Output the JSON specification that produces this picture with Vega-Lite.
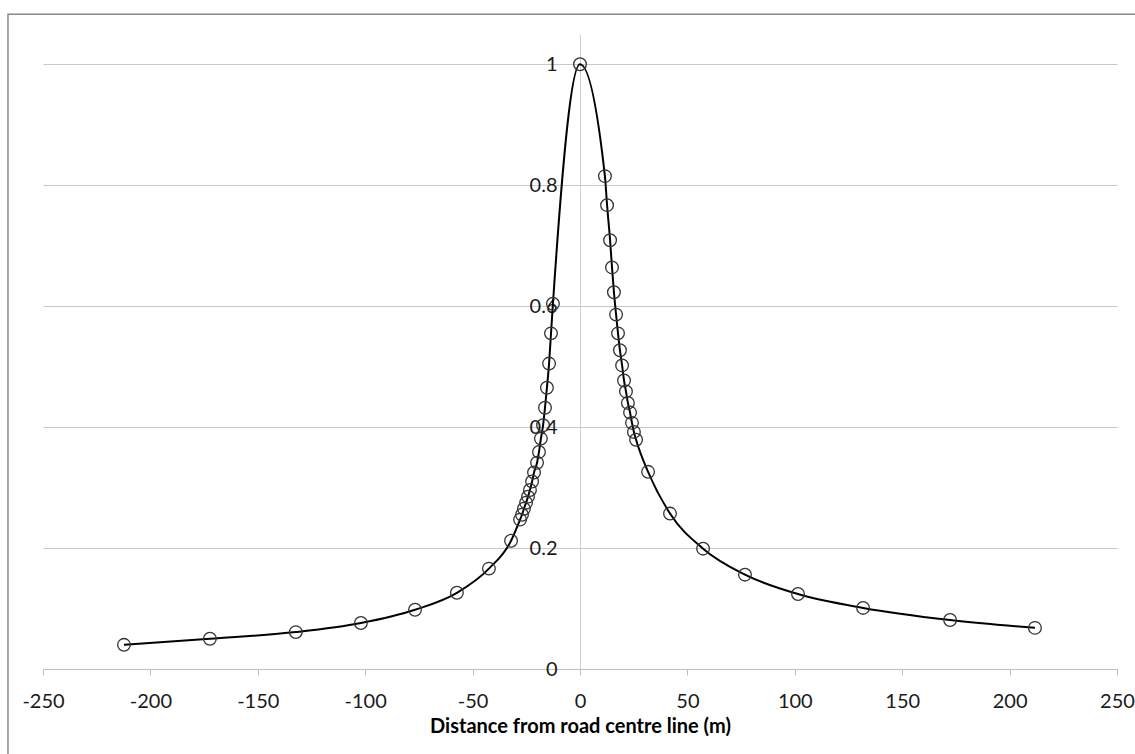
{
  "$schema": "https://vega.github.io/schema/vega-lite/v6.json",
  "width": 1074,
  "height": 635,
  "autosize": {"type": "none"},
  "padding": {"left": 43, "top": 34, "right": 18, "bottom": 85},
  "background": "white",
  "config": {"view": {"stroke": null}, "font": "Lato"},
  "data": {"values": [
    {"d": -212.3, "v": 0.040}, {"d": -172.3, "v": 0.050}, {"d": -132.3, "v": 0.061},
    {"d": -102.0, "v": 0.076}, {"d": -76.8, "v": 0.098}, {"d": -57.3, "v": 0.126},
    {"d": -42.4, "v": 0.166}, {"d": -32.1, "v": 0.212}, {"d": -27.9, "v": 0.247},
    {"d": -27.0, "v": 0.255}, {"d": -26.1, "v": 0.265}, {"d": -25.1, "v": 0.275},
    {"d": -24.2, "v": 0.285}, {"d": -23.3, "v": 0.296}, {"d": -22.3, "v": 0.310},
    {"d": -21.4, "v": 0.325}, {"d": -20.0, "v": 0.341}, {"d": -19.1, "v": 0.359},
    {"d": -18.2, "v": 0.381}, {"d": -17.2, "v": 0.403}, {"d": -16.3, "v": 0.432},
    {"d": -15.4, "v": 0.465}, {"d": -14.4, "v": 0.505}, {"d": -13.5, "v": 0.555},
    {"d": -12.6, "v": 0.604}, {"d": 0, "v": 1.0},
    {"d": 11.6, "v": 0.815}, {"d": 12.6, "v": 0.767}, {"d": 14.0, "v": 0.709},
    {"d": 14.9, "v": 0.664}, {"d": 15.8, "v": 0.623}, {"d": 16.8, "v": 0.586},
    {"d": 17.7, "v": 0.555}, {"d": 18.6, "v": 0.527}, {"d": 19.6, "v": 0.502},
    {"d": 20.5, "v": 0.477}, {"d": 21.4, "v": 0.459}, {"d": 22.3, "v": 0.440},
    {"d": 23.3, "v": 0.424}, {"d": 24.2, "v": 0.407}, {"d": 25.1, "v": 0.392},
    {"d": 26.1, "v": 0.379}, {"d": 31.7, "v": 0.326}, {"d": 41.9, "v": 0.257},
    {"d": 57.3, "v": 0.199}, {"d": 76.8, "v": 0.156}, {"d": 101.5, "v": 0.124},
    {"d": 131.8, "v": 0.101}, {"d": 172.3, "v": 0.081}, {"d": 211.8, "v": 0.068}
  ]},
  "layer": [
    {
      "mark": {"type": "line", "interpolate": "monotone", "color": "#000000", "strokeWidth": 2},
      "encoding": {
        "x": {
          "field": "d", "type": "quantitative",
          "scale": {"domain": [-250, 250], "nice": false, "zero": false},
          "axis": {
            "orient": "bottom",
            "values": [-250, -200, -150, -100, -50, 0, 50, 100, 150, 200, 250],
            "labelExpr": "'' + datum.value",
            "grid": false,
            "domainColor": "#bfbfbf", "domainWidth": 1,
            "tickColor": "#bfbfbf", "tickSize": 6, "tickWidth": 1,
            "labelFontSize": 20, "labelColor": "#1a1a1a", "labelPadding": 16,
            "labelFlush": false,
            "title": "Distance from road centre line (m)",
            "titleFontSize": 20, "titleFontWeight": "bold", "titleColor": "#000000",
            "titlePadding": 5
          }
        },
        "y": {
          "field": "v", "type": "quantitative",
          "scale": {"domain": [0, 1.05], "nice": false, "zero": false},
          "axis": {
            "orient": "left",
            "offset": -537,
            "values": [0, 0.2, 0.4, 0.6, 0.8, 1],
            "labelExpr": "'' + datum.value",
            "grid": true, "gridColor": "#c8c8c8", "gridWidth": 1,
            "domainColor": "#d0d0d0", "domainWidth": 1,
            "ticks": false, "tickSize": 0,
            "labelFontSize": 20, "labelColor": "#1a1a1a", "labelPadding": 23,
            "labelFlush": false,
            "title": null
          }
        },
        "order": {"field": "d"}
      }
    },
    {
      "mark": {"type": "point", "shape": "circle", "filled": false, "stroke": "#333333", "strokeWidth": 1.3, "size": 160, "opacity": 1},
      "encoding": {
        "x": {"field": "d", "type": "quantitative"},
        "y": {"field": "v", "type": "quantitative"}
      }
    },
    {
      "data": {"values": [{}]},
      "mark": {"type": "rect", "fill": null, "stroke": "#888888", "strokeWidth": 1.5, "clip": false},
      "encoding": {
        "x": {"datum": -266.3, "type": "quantitative"},
        "x2": {"datum": 261},
        "y": {"datum": 1.0826, "type": "quantitative"},
        "y2": {"datum": -0.16}
      }
    }
  ]
}
